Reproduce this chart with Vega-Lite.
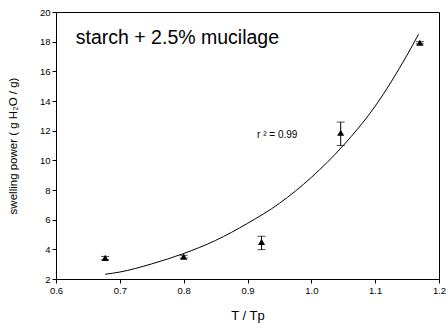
{
  "$schema": "https://vega.github.io/schema/vega-lite/v6.json",
  "autosize": "none",
  "width": 383,
  "height": 267,
  "padding": {"left": 56, "top": 12, "right": 9, "bottom": 50},
  "background": "white",
  "config": {
    "view": {"stroke": "black", "strokeWidth": 1},
    "font": "Liberation Sans",
    "axis": {
      "grid": false,
      "domainColor": "black",
      "tickColor": "black",
      "tickSize": 4,
      "labelColor": "black",
      "labelFontSize": 9.5,
      "labelFont": "Liberation Sans",
      "labelOverlap": false,
      "labelFlush": false,
      "titleFont": "Liberation Sans",
      "titleFontWeight": "normal",
      "titleColor": "black"
    }
  },
  "datasets": {
    "pts": [
      {"x": 0.677, "y": 3.42, "lo": 3.3, "hi": 3.52},
      {"x": 0.8, "y": 3.51, "lo": 3.4, "hi": 3.6},
      {"x": 0.922, "y": 4.5, "lo": 3.98, "hi": 4.88},
      {"x": 1.046, "y": 11.86, "lo": 11.0, "hi": 12.58},
      {"x": 1.17, "y": 17.93, "lo": 17.85, "hi": 18.0}
    ],
    "fit": [
      {"x": 0.677, "y": 2.32},
      {"x": 0.7, "y": 2.47},
      {"x": 0.75, "y": 3.02},
      {"x": 0.8, "y": 3.72},
      {"x": 0.85, "y": 4.6},
      {"x": 0.9, "y": 5.75},
      {"x": 0.95, "y": 7.1},
      {"x": 1.0, "y": 8.85},
      {"x": 1.05, "y": 11.0},
      {"x": 1.1, "y": 13.65},
      {"x": 1.15, "y": 17.1},
      {"x": 1.168, "y": 18.5}
    ],
    "labels": [
      {"x": 0.631, "y": 18.25, "t": "starch + 2.5% mucilage", "k": "big"},
      {"x": 0.915, "y": 11.68, "t": "r ² = 0.99", "k": "small"}
    ]
  },
  "layer": [
    {
      "data": {"name": "fit"},
      "mark": {"type": "line", "color": "black", "strokeWidth": 1, "interpolate": "monotone"},
      "encoding": {
        "x": {"field": "x", "type": "quantitative", "scale": {"domain": [0.6, 1.2], "nice": false},
          "axis": {"title": "T / Tp", "titleFontSize": 13, "titlePadding": 15, "values": [0.6, 0.7, 0.8, 0.9, 1.0, 1.1, 1.2], "format": ".1f"}},
        "y": {"field": "y", "type": "quantitative", "scale": {"domain": [2, 20], "nice": false},
          "axis": {"title": "swelling power ( g H₂O / g)", "titleFontSize": 11.5, "titlePadding": 21, "values": [2, 4, 6, 8, 10, 12, 14, 16, 18, 20], "labelOverlap": false, "tickCount": 10, "format": "d"}}
      }
    },
    {
      "data": {"name": "pts"},
      "mark": {"type": "rule", "color": "black", "strokeWidth": 1},
      "encoding": {
        "x": {"field": "x", "type": "quantitative"},
        "y": {"field": "lo", "type": "quantitative"},
        "y2": {"field": "hi"}
      }
    },
    {
      "data": {"name": "pts"},
      "mark": {"type": "tick", "orient": "horizontal", "color": "black", "thickness": 1, "size": 8},
      "encoding": {
        "x": {"field": "x", "type": "quantitative"},
        "y": {"field": "lo", "type": "quantitative"}
      }
    },
    {
      "data": {"name": "pts"},
      "mark": {"type": "tick", "orient": "horizontal", "color": "black", "thickness": 1, "size": 8},
      "encoding": {
        "x": {"field": "x", "type": "quantitative"},
        "y": {"field": "hi", "type": "quantitative"}
      }
    },
    {
      "data": {"name": "pts"},
      "mark": {"type": "point", "shape": "triangle-up", "filled": true, "color": "black", "size": 50, "opacity": 1},
      "encoding": {
        "x": {"field": "x", "type": "quantitative"},
        "y": {"field": "y", "type": "quantitative"}
      }
    },
    {
      "data": {"name": "labels"},
      "transform": [{"filter": "datum.k == 'big'"}],
      "mark": {"type": "text", "align": "left", "baseline": "middle", "fontSize": 19.5, "color": "black"},
      "encoding": {
        "x": {"field": "x", "type": "quantitative"},
        "y": {"field": "y", "type": "quantitative"},
        "text": {"field": "t"}
      }
    },
    {
      "data": {"name": "labels"},
      "transform": [{"filter": "datum.k == 'small'"}],
      "mark": {"type": "text", "align": "left", "baseline": "middle", "fontSize": 10, "color": "black"},
      "encoding": {
        "x": {"field": "x", "type": "quantitative"},
        "y": {"field": "y", "type": "quantitative"},
        "text": {"field": "t"}
      }
    }
  ]
}
